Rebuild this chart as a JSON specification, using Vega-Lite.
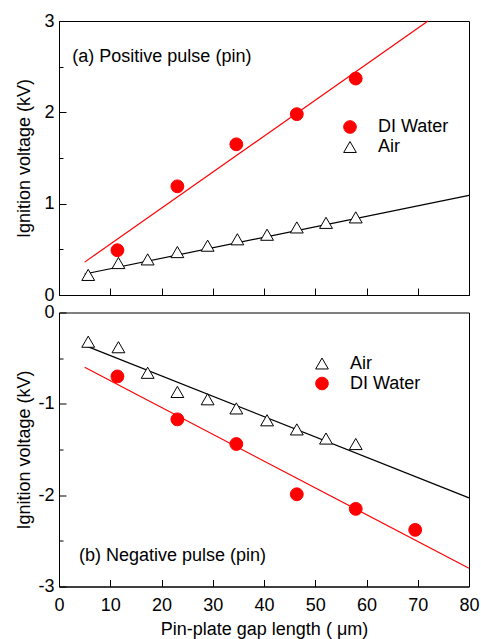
{
  "$schema": "https://vega.github.io/schema/vega-lite/v6.json",
  "padding": {"left": 14, "top": 11, "right": 5, "bottom": 5},
  "background": "white",
  "bounds": "flush",
  "spacing": 17.5,
  "config": {
    "view": {"stroke": "black", "strokeWidth": 1},
    "font": "Liberation Sans",
    "axis": {
      "grid": false,
      "zindex": 1,
      "domainColor": "black",
      "tickColor": "black",
      "tickWidth": 1,
      "labelColor": "black",
      "titleColor": "black",
      "labelFont": "Liberation Sans",
      "titleFont": "Liberation Sans",
      "labelFontSize": 18,
      "titleFontSize": 18,
      "titleFontWeight": "normal",
      "labelFlush": false,
      "labelOverlap": false
    },
    "legend": {
      "labelFont": "Liberation Sans",
      "labelFontSize": 18,
      "labelColor": "black",
      "symbolSize": 160,
      "symbolStrokeWidth": 1,
      "rowPadding": 2,
      "labelOffset": 19,
      "orient": "none"
    }
  },
  "datasets": {
    "pts": [
      {"panel": "a", "medium": "Air", "gap": 5.7, "voltage": 0.22},
      {"panel": "a", "medium": "Air", "gap": 11.6, "voltage": 0.35},
      {"panel": "a", "medium": "Air", "gap": 17.3, "voltage": 0.39},
      {"panel": "a", "medium": "Air", "gap": 23.1, "voltage": 0.47},
      {"panel": "a", "medium": "Air", "gap": 29.0, "voltage": 0.54},
      {"panel": "a", "medium": "Air", "gap": 34.8, "voltage": 0.61},
      {"panel": "a", "medium": "Air", "gap": 40.6, "voltage": 0.66},
      {"panel": "a", "medium": "Air", "gap": 46.4, "voltage": 0.74},
      {"panel": "a", "medium": "Air", "gap": 52.1, "voltage": 0.79},
      {"panel": "a", "medium": "Air", "gap": 57.9, "voltage": 0.85},
      {"panel": "a", "medium": "DI Water", "gap": 11.4, "voltage": 0.49},
      {"panel": "a", "medium": "DI Water", "gap": 23.1, "voltage": 1.19},
      {"panel": "a", "medium": "DI Water", "gap": 34.6, "voltage": 1.65},
      {"panel": "a", "medium": "DI Water", "gap": 46.4, "voltage": 1.98},
      {"panel": "a", "medium": "DI Water", "gap": 57.9, "voltage": 2.37},
      {"panel": "b", "medium": "Air", "gap": 5.7, "voltage": -0.32},
      {"panel": "b", "medium": "Air", "gap": 11.6, "voltage": -0.38},
      {"panel": "b", "medium": "Air", "gap": 17.3, "voltage": -0.66},
      {"panel": "b", "medium": "Air", "gap": 23.1, "voltage": -0.87},
      {"panel": "b", "medium": "Air", "gap": 29.0, "voltage": -0.95},
      {"panel": "b", "medium": "Air", "gap": 34.6, "voltage": -1.05},
      {"panel": "b", "medium": "Air", "gap": 40.6, "voltage": -1.18},
      {"panel": "b", "medium": "Air", "gap": 46.4, "voltage": -1.28},
      {"panel": "b", "medium": "Air", "gap": 52.1, "voltage": -1.38},
      {"panel": "b", "medium": "Air", "gap": 57.9, "voltage": -1.44},
      {"panel": "b", "medium": "DI Water", "gap": 11.4, "voltage": -0.70},
      {"panel": "b", "medium": "DI Water", "gap": 23.1, "voltage": -1.17},
      {"panel": "b", "medium": "DI Water", "gap": 34.6, "voltage": -1.44},
      {"panel": "b", "medium": "DI Water", "gap": 46.4, "voltage": -1.99},
      {"panel": "b", "medium": "DI Water", "gap": 57.9, "voltage": -2.15},
      {"panel": "b", "medium": "DI Water", "gap": 69.5, "voltage": -2.38}
    ],
    "fits": [
      {"panel": "a", "medium": "Air", "gap": 5, "voltage": 0.23},
      {"panel": "a", "medium": "Air", "gap": 80, "voltage": 1.09},
      {"panel": "a", "medium": "DI Water", "gap": 5, "voltage": 0.36},
      {"panel": "a", "medium": "DI Water", "gap": 72, "voltage": 3.0},
      {"panel": "b", "medium": "Air", "gap": 5, "voltage": -0.36},
      {"panel": "b", "medium": "Air", "gap": 80, "voltage": -2.03},
      {"panel": "b", "medium": "DI Water", "gap": 5, "voltage": -0.60},
      {"panel": "b", "medium": "DI Water", "gap": 80, "voltage": -2.80}
    ]
  },
  "resolve": {
    "scale": {"shape": "independent", "fill": "independent", "stroke": "independent", "y": "independent"},
    "legend": {"shape": "independent", "fill": "independent", "stroke": "independent"}
  },
  "vconcat": [
    {
      "width": 410,
      "height": 274,
      "layer": [
        {
          "data": {"name": "fits"},
          "transform": [{"filter": "datum.panel === 'a' && datum.medium === 'DI Water'"}],
          "mark": {"type": "line", "color": "#ff0000", "strokeWidth": 1.2},
          "encoding": {
            "x": {"field": "gap", "type": "quantitative", "scale": {"domain": [0, 80], "nice": false},
              "axis": {"values": [0, 5, 10, 15, 20, 25, 30, 35, 40, 45, 50, 55, 60, 65, 70, 75, 80], "labels": false, "title": null,
                "tickSize": {"condition": {"test": "datum.value % 10 === 0", "value": -7}, "value": -4}}},
            "y": {"field": "voltage", "type": "quantitative", "scale": {"domain": [0, 3], "nice": false},
              "axis": {"values": [0, 0.5, 1, 1.5, 2, 2.5, 3],
                "labelExpr": "datum.value % 1 ? '' : toString(datum.value)",
                "tickSize": {"condition": {"test": "datum.value % 1 === 0", "value": -7}, "value": -4},
                "labelPadding": 12,
                "title": "Ignition voltage (kV)", "titleX": -29.5, "titleY": 137, "titleAngle": 270,
                "titleAlign": "center", "titleBaseline": "alphabetic"}}
          }
        },
        {
          "data": {"name": "fits"},
          "transform": [{"filter": "datum.panel === 'a' && datum.medium === 'Air'"}],
          "mark": {"type": "line", "color": "black", "strokeWidth": 1.2},
          "encoding": {
            "x": {"field": "gap", "type": "quantitative"},
            "y": {"field": "voltage", "type": "quantitative"}
          }
        },
        {
          "data": {"name": "pts"},
          "transform": [{"filter": "datum.panel === 'a'"}],
          "mark": {"type": "point", "size": 165, "strokeWidth": 1, "opacity": 1},
          "encoding": {
            "x": {"field": "gap", "type": "quantitative"},
            "y": {"field": "voltage", "type": "quantitative"},
            "shape": {"field": "medium", "type": "nominal", "scale": {"domain": ["DI Water", "Air"], "range": ["circle", "triangle-up"]},
              "legend": {"title": null, "legendX": 282, "legendY": 97}},
            "fill": {"field": "medium", "type": "nominal", "scale": {"domain": ["DI Water", "Air"], "range": ["#ff0000", "white"]},
              "legend": {"title": null, "legendX": 282, "legendY": 97}},
            "stroke": {"field": "medium", "type": "nominal", "scale": {"domain": ["DI Water", "Air"], "range": ["#ff0000", "black"]},
              "legend": {"title": null, "legendX": 282, "legendY": 97}}
          }
        },
        {
          "data": {"values": [{"label": "(a) Positive pulse (pin)"}]},
          "mark": {"type": "text", "align": "left", "baseline": "middle", "fontSize": 18, "font": "Liberation Sans", "color": "black"},
          "encoding": {
            "x": {"datum": 2.6, "type": "quantitative"},
            "y": {"datum": 2.61, "type": "quantitative"},
            "text": {"field": "label"}
          }
        }
      ]
    },
    {
      "width": 410,
      "height": 274,
      "layer": [
        {
          "data": {"name": "fits"},
          "transform": [{"filter": "datum.panel === 'b' && datum.medium === 'DI Water'"}],
          "mark": {"type": "line", "color": "#ff0000", "strokeWidth": 1.2},
          "encoding": {
            "x": {"field": "gap", "type": "quantitative", "scale": {"domain": [0, 80], "nice": false},
              "axis": {"values": [0, 5, 10, 15, 20, 25, 30, 35, 40, 45, 50, 55, 60, 65, 70, 75, 80],
                "labelExpr": "datum.value % 10 ? '' : toString(datum.value)",
                "tickSize": {"condition": {"test": "datum.value % 10 === 0", "value": -7}, "value": -4},
                "labelPadding": 17,
                "title": "Pin-plate gap length ( μm)", "titleY": 48.3, "titleBaseline": "alphabetic"}},
            "y": {"field": "voltage", "type": "quantitative", "scale": {"domain": [-3, 0], "nice": false},
              "axis": {"values": [-3, -2.5, -2, -1.5, -1, -0.5, 0],
                "labelExpr": "datum.value % 1 ? '' : toString(datum.value)",
                "tickSize": {"condition": {"test": "datum.value % 1 === 0", "value": -7}, "value": -4},
                "labelPadding": 12,
                "title": "Ignition voltage (kV)", "titleX": -29.5, "titleY": 137, "titleAngle": 270,
                "titleAlign": "center", "titleBaseline": "alphabetic"}}
          }
        },
        {
          "data": {"name": "fits"},
          "transform": [{"filter": "datum.panel === 'b' && datum.medium === 'Air'"}],
          "mark": {"type": "line", "color": "black", "strokeWidth": 1.2},
          "encoding": {
            "x": {"field": "gap", "type": "quantitative"},
            "y": {"field": "voltage", "type": "quantitative"}
          }
        },
        {
          "data": {"name": "pts"},
          "transform": [{"filter": "datum.panel === 'b'"}],
          "mark": {"type": "point", "size": 165, "strokeWidth": 1, "opacity": 1},
          "encoding": {
            "x": {"field": "gap", "type": "quantitative"},
            "y": {"field": "voltage", "type": "quantitative"},
            "shape": {"field": "medium", "type": "nominal", "scale": {"domain": ["Air", "DI Water"], "range": ["triangle-up", "circle"]},
              "legend": {"title": null, "legendX": 254, "legendY": 42}},
            "fill": {"field": "medium", "type": "nominal", "scale": {"domain": ["Air", "DI Water"], "range": ["white", "#ff0000"]},
              "legend": {"title": null, "legendX": 254, "legendY": 42}},
            "stroke": {"field": "medium", "type": "nominal", "scale": {"domain": ["Air", "DI Water"], "range": ["black", "#ff0000"]},
              "legend": {"title": null, "legendX": 254, "legendY": 42}}
          }
        },
        {
          "data": {"values": [{"label": "(b) Negative pulse (pin)"}]},
          "mark": {"type": "text", "align": "left", "baseline": "middle", "fontSize": 18, "font": "Liberation Sans", "color": "black"},
          "encoding": {
            "x": {"datum": 3.9, "type": "quantitative"},
            "y": {"datum": -2.67, "type": "quantitative"},
            "text": {"field": "label"}
          }
        }
      ]
    }
  ]
}
